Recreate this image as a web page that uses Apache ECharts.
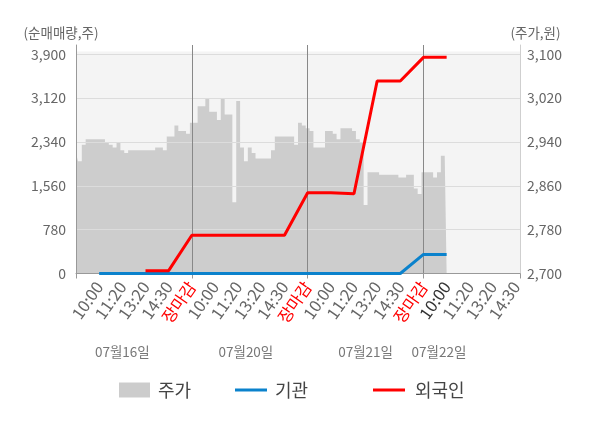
<!DOCTYPE html>
<html>
<head>
    <meta charset="utf-8">
    <title>순매매량 / 주가</title>
    <script src="https://cdn.jsdelivr.net/npm/echarts@6/dist/echarts.min.js"></script>
    <style>
        html, body { margin: 0; padding: 0; background: #fff; }
        #chart { width: 600px; height: 428px; }
    </style>
</head>
<body>
<div id="chart"></div>
<script>
    // 한 칸(slot) = 10:00 / 11:20 / 13:20 / 14:30 / 장마감, 칸마다 6개의 세부 구간
    var SUB = 6;
    var TOTAL = 116;
    var slotNames = ['10:00', '11:20', '13:20', '14:30', '장마감'];
    var dateNames = ['07월16일', '07월20일', '07월21일', '07월22일'];
    var dateIdx = [12, 44, 75, 94];

    // 주가 (원), 세부 구간별
    var price = [
        2920, 2905, 2935, 2945, 2945, 2945, 2945, 2945, 2940, 2935,
        2930, 2940, 2925, 2920, 2925, 2925, 2925, 2925, 2925, 2925,
        2925, 2930, 2930, 2925, 2950, 2950, 2970, 2960, 2960, 2955,
        2975, 2975, 3005, 3005, 3020, 2995, 2995, 2980, 3020, 2990,
        2990, 2830, 3015, 2930, 2905, 2930, 2920, 2910, 2910, 2910,
        2910, 2925, 2950, 2950, 2950, 2950, 2950, 2935, 2975, 2970,
        2965, 2960, 2930, 2930, 2930, 2960, 2960, 2955, 2945, 2965,
        2965, 2965, 2960, 2945, 2940, 2825, 2885, 2885, 2885, 2880,
        2880, 2880, 2880, 2880, 2875, 2875, 2880, 2880, 2855, 2845,
        2885, 2885, 2885, 2875, 2885, 2915, 2915
    ];
    // 순매매량 (주), 칸별 (0 = 첫 시점)
    var inst = [null, 0, 0, 0, 0, 0, 0, 0, 0, 0, 0, 0, 0, 0, 0, 340, 340];
    var foreign = [null, null, null, 50, 50, 680, 680, 680, 680, 680, 1435, 1435, 1420, 3425, 3425, 3845, 3845];

    var cats = [], dateCats = [];
    for (var i = 0; i < TOTAL; i++) {
        var lab = '';
        if (i > 0 && i % SUB === 0 && i <= 114) lab = slotNames[(i / SUB - 1) % 5];
        cats.push(lab);
        var k = dateIdx.indexOf(i);
        dateCats.push(k >= 0 ? dateNames[k] : '');
    }
    function spread(arr) {
        var out = [];
        for (var i = 0; i < TOTAL; i++) out.push(null);
        for (var s = 0; s < arr.length; s++) out[s * SUB] = arr[s];
        return out;
    }
    function comma(v) { return v.toLocaleString('en-US'); }

    var font = 'Noto Sans CJK KR';
    var chart = echarts.init(document.getElementById('chart'));
    var option = {
        animation: false,
        textStyle: { fontFamily: font },
        grid: { left: 76, right: 80, top: 45, bottom: 154.5 },
        legend: [
            { data: [{ name: '주가', icon: 'rect' }], left: 114, top: 376, itemWidth: 31, itemHeight: 15,
              textStyle: { fontSize: 18, color: '#444', fontFamily: font, padding: [0, 0, 0, 3] } },
            { data: [{ name: '기관', icon: 'rect' }], left: 230, top: 376, itemWidth: 32, itemHeight: 3,
              textStyle: { fontSize: 18, color: '#444', fontFamily: font, padding: [0, 0, 0, 3] } },
            { data: [{ name: '외국인', icon: 'rect' }], left: 368, top: 376, itemWidth: 32, itemHeight: 3,
              textStyle: { fontSize: 18, color: '#444', fontFamily: font, padding: [0, 0, 0, 5] } }
        ],
        xAxis: [
            {
                type: 'category',
                data: cats,
                boundaryGap: false,
                z: 3,
                axisLine: { lineStyle: { color: '#999' } },
                axisTick: {
                    length: 5,
                    interval: function (idx) { return idx % 30 === 0 || idx === TOTAL - 1; },
                    lineStyle: { color: '#999' }
                },
                splitLine: {
                    show: true,
                    interval: function (idx) { return idx > 0 && idx % 30 === 0; },
                    lineStyle: { color: '#888' }
                },
                axisLabel: {
                    interval: 0,
                    rotate: 55,
                    margin: 10,
                    fontSize: 16.5,
                    color: '#666',
                    formatter: function (v, idx) {
                        if (v === '장마감') return '{r|' + v + '}';
                        if (idx === 96) return '{d|' + v + '}';
                        return v;
                    },
                    rich: {
                        r: { color: '#ff0000', fontSize: 16.5, fontFamily: font },
                        d: { color: '#333', fontSize: 16.5, fontFamily: font }
                    }
                }
            },
            {
                type: 'category',
                data: dateCats,
                boundaryGap: false,
                position: 'bottom',
                offset: 70,
                axisLine: { show: false },
                axisTick: { show: false },
                axisLabel: { interval: 0, margin: 2, fontSize: 13.5, color: '#777' }
            }
        ],
        yAxis: [
            {
                type: 'value',
                min: 0, max: 4065, interval: 780,
                z: 3,
                name: '(순매매량,주)',
                nameGap: 5,
                nameTextStyle: { fontSize: 13.5, color: '#666', padding: [0, 30, 0, 0] },
                axisLine: { show: true, lineStyle: { color: '#999' } },
                axisTick: { show: false },
                splitLine: { showMaxLine: false, lineStyle: { color: '#dcdcdc' } },
                axisLabel: {
                    fontSize: 14, color: '#666', margin: 10, showMaxLabel: false,
                    formatter: function (v) { return v % 780 === 0 ? comma(v) : ''; }
                }
            },
            {
                type: 'value',
                min: 2700, max: 3117, interval: 80,
                position: 'right',
                name: '(주가,원)',
                nameGap: 5,
                nameTextStyle: { fontSize: 13.5, color: '#666', padding: [0, 0, 0, 31] },
                axisLine: { show: true, lineStyle: { color: '#cfcfcf' } },
                axisTick: { show: false },
                splitLine: { show: false },
                axisLabel: {
                    fontSize: 14, color: '#666', margin: 7, showMaxLabel: false,
                    formatter: function (v) { return (v - 2700) % 80 === 0 ? comma(v) : ''; }
                }
            }
        ],
        series: [
            {
                name: '주가',
                type: 'line',
                yAxisIndex: 1,
                data: price,
                step: 'middle',
                showSymbol: false,
                color: '#cccccc',
                lineStyle: { width: 0 },
                areaStyle: { color: '#cdcdcd', opacity: 1, origin: 'start' },
                z: 1,
                markArea: {
                    silent: true,
                    z: 0,
                    itemStyle: { color: '#f4f4f4' },
                    data: [[{ yAxis: 2700 }, { yAxis: 3105 }]]
                }
            },
            {
                name: '기관',
                type: 'line',
                data: spread(inst),
                connectNulls: true,
                showSymbol: false,
                color: '#0b82cc',
                lineStyle: { width: 3 },
                z: 5
            },
            {
                name: '외국인',
                type: 'line',
                data: spread(foreign),
                connectNulls: true,
                showSymbol: false,
                color: '#ff0000',
                lineStyle: { width: 3 },
                z: 6
            }
        ]
    };
    chart.setOption(option);
</script>
</body>
</html>
